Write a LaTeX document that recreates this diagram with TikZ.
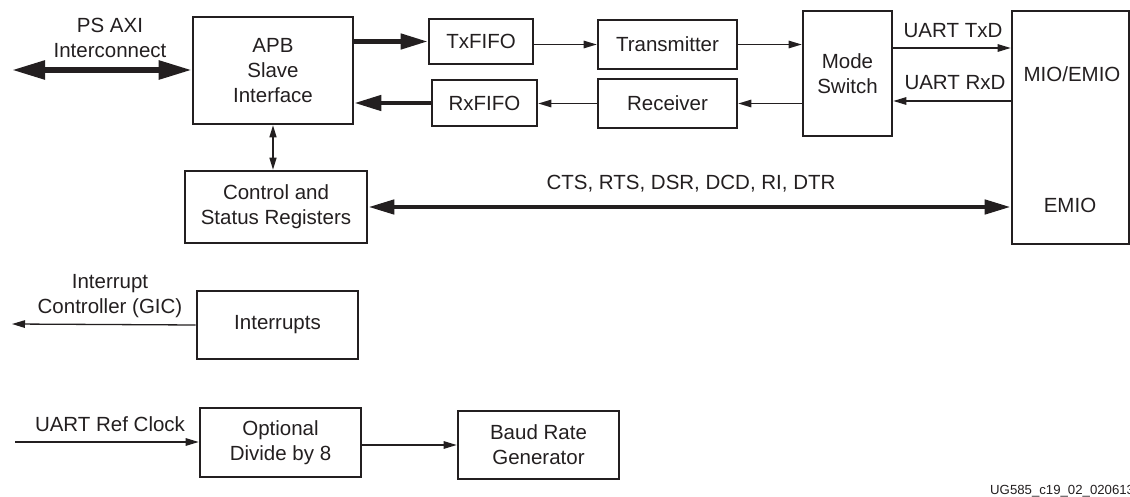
\documentclass[tikz,border=0pt]{standalone}
\usepackage{fontspec}
\setmainfont{Liberation Sans}
\usetikzlibrary{arrows.meta}
\definecolor{ink}{HTML}{231F20}
\begin{document}
\begin{tikzpicture}[x=1pt,y=-1pt,
  every node/.style={font=\fontsize{20.5}{25}\selectfont, text=ink},
  box/.style={draw=ink, line width=2.6pt, inner sep=0pt, align=center},
  lbl/.style={inner sep=0pt, align=center},
  sig/.style={draw=ink, line width=1.3pt, -{Triangle[length=13pt,width=7.5pt]}},
  sigboth/.style={draw=ink, line width=1.3pt, {Triangle[length=12pt,width=7pt]}-{Triangle[length=12pt,width=7pt]}},
  busbig/.style={draw=ink, line width=5.5pt, {Triangle[length=33pt,width=18pt]}-{Triangle[length=33pt,width=18pt]}},
  busmid/.style={draw=ink, line width=4.5pt, -{Triangle[length=27pt,width=15pt]}},
  busboth/.style={draw=ink, line width=4.5pt, {Triangle[length=26pt,width=14pt]}-{Triangle[length=26pt,width=14pt]}}]
\useasboundingbox (0,0) rectangle (1130,497);

% boxes
\node[box, minimum width=160pt, minimum height=107pt] (apb) at (273,70.5) {APB\\Slave\\Interface};
\node[box, minimum width=104pt, minimum height=45pt] (txfifo) at (481,41.5) {TxFIFO};
\node[box, minimum width=139pt, minimum height=49pt] (tx) at (667.5,44.5) {Transmitter};
\node[box, minimum width=105pt, minimum height=46pt] (rxfifo) at (484.5,103) {RxFIFO};
\node[box, minimum width=139pt, minimum height=49pt] (rx) at (667.5,103.5) {Receiver};
\node[box, minimum width=89pt, minimum height=125pt] (mode) at (847.5,73.5) {Mode\\Switch};
\node[box, minimum width=117pt, minimum height=233pt] (mio) at (1070.5,127.5) {};
\node[lbl] (miotxt) at (1072,74) {MIO/EMIO};
\node[lbl] (emiotxt) at (1070,205) {EMIO};
\node[box, minimum width=182pt, minimum height=72pt] (ctrl) at (276,207) {Control and\\Status Registers};
\node[box, minimum width=161pt, minimum height=68pt] (intr) at (277.5,325) {Interrupts};
\node[box, minimum width=161pt, minimum height=69pt] (opt) at (280.5,442.5) {Optional\\Divide by 8};
\node[box, minimum width=161pt, minimum height=68pt] (baud) at (538.5,445) {Baud Rate\\Generator};

% labels
\node[lbl] (psaxi) at (110,37.5) {PS AXI\\Interconnect};
\node[lbl] (txd) at (953,31) {UART TxD};
\node[lbl] (rxd) at (955,83) {UART RxD};
\node[lbl] (ctsl) at (691,184) {CTS, RTS, DSR, DCD, RI, DTR};
\node[lbl] (gic) at (110,296) {Interrupt\\Controller (GIC)};
\node[lbl] (refclk) at (110,424) {UART Ref Clock};
\node[lbl, anchor=west, font=\fontsize{13.2}{16}\selectfont] (ug) at (990,491) {UG585\_c19\_02\_020613};

% free ends
\coordinate (axiend) at (12,70);
\coordinate (gicend) at (12,324);
\coordinate (clkstart) at (15,442);
\coordinate (txdy) at (0,48);
\coordinate (rxdy) at (0,101);

% connectors
\draw[busbig] (axiend) -- (apb.west |- axiend);
\draw[busmid] (apb.east |- txfifo.west) -- (txfifo.west);
\draw[busmid] (rxfifo.west) -- (apb.east |- rxfifo.west);
\draw[sig] (txfifo.east |- tx.west) -- (tx.west);
\draw[sig] (rx.west) -- (rxfifo.east |- rx.west);
\draw[sig] (tx.east) -- (tx.east -| mode.west);
\draw[sig] (mode.west |- rx.east) -- (rx.east);
\draw[sig] (mode.east |- txdy) -- (mio.west |- txdy);
\draw[sig] (mio.west |- rxdy) -- (mode.east |- rxdy);
\draw[busboth] (ctrl.east) -- (mio.west |- ctrl.east);
\draw[sigboth] (apb.south) -- (apb.south |- ctrl.north);
\draw[sig] (intr.west) -- (gicend);
\draw[sig] (clkstart) -- (opt.west |- clkstart);
\draw[sig] (opt.east |- baud.west) -- (baud.west);
\end{tikzpicture}
\end{document}
